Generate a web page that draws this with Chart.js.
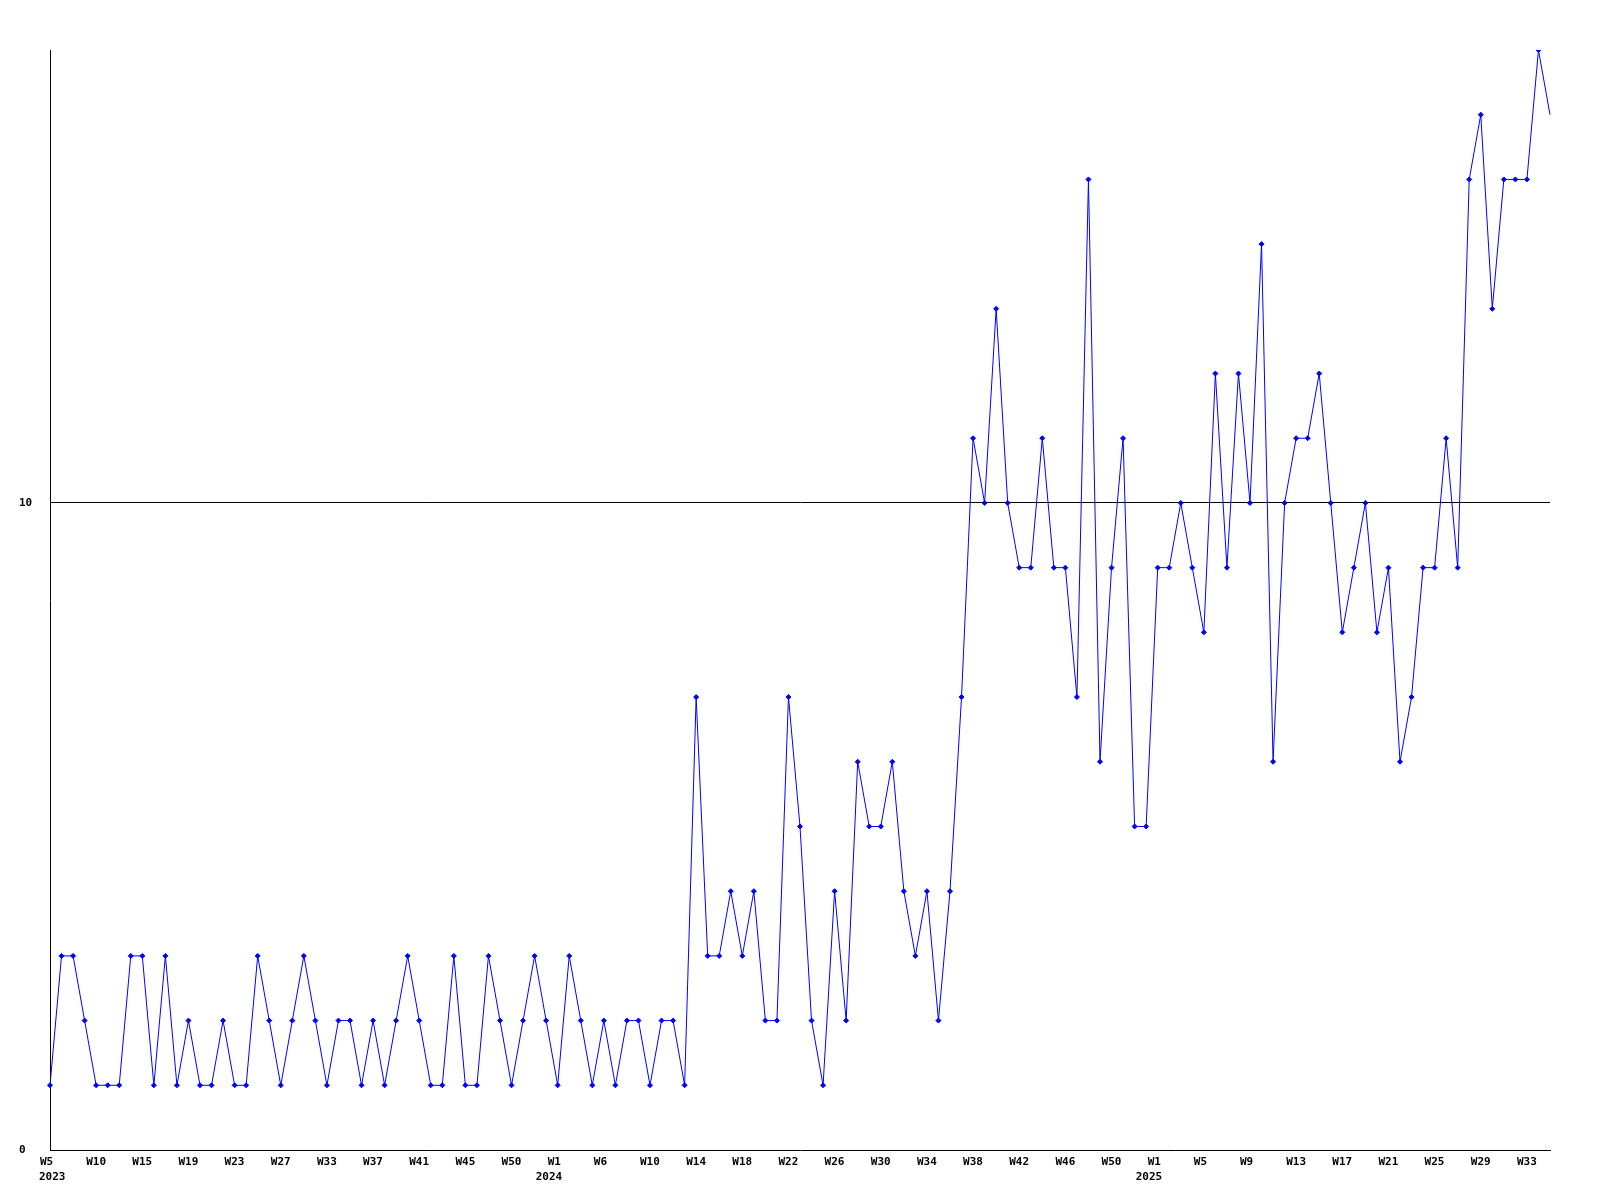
<!DOCTYPE html>
<html>
<head>
<meta charset="utf-8">
<script src="https://cdn.jsdelivr.net/npm/chart.js@4/dist/chart.umd.min.js"></script>
<style>
  body { margin: 0; background: #fff; }
  canvas { display: block; }
</style>
</head>
<body>
<canvas id="chart" width="1600" height="1200"></canvas>
<script>
// weekly values, 2023 W5 .. 2025 W34
const values = [
  1, 3, 3, 2, 1, 1, 1, 3, 3, 1,
  3, 1, 2, 1, 1, 2, 1, 1, 3, 2,
  1, 2, 3, 2, 1, 2, 2, 1, 2, 1,
  2, 3, 2, 1, 1, 3, 1, 1, 3, 2,
  1, 2, 3, 2, 1, 3, 2, 1, 2, 1,
  2, 2, 1, 2, 2, 1, 7, 3, 3, 4,
  3, 4, 2, 2, 7, 5, 2, 1, 4, 2,
  6, 5, 5, 6, 4, 3, 4, 2, 4, 7,
  11, 10, 13, 10, 9, 9, 11, 9, 9, 7,
  15, 6, 9, 11, 5, 5, 9, 9, 10, 9,
  8, 12, 9, 12, 10, 14, 6, 10, 11, 11,
  12, 10, 8, 9, 10, 8, 9, 6, 7, 9,
  9, 11, 9, 15, 16, 13, 15, 15, 15, 17,
  16
];

// x tick labels, one every 4th point
const tickLabels = [
  "W5", "W10", "W15", "W19", "W23", "W27", "W33", "W37", "W41", "W45", "W50",
  "W1", "W6", "W10", "W14", "W18", "W22", "W26", "W30", "W34", "W38", "W42", "W46", "W50",
  "W1", "W5", "W9", "W13", "W17", "W21", "W25", "W29", "W33"
];
const tickStep = 4;
// year shown under these tick labels (index into tickLabels)
const yearTicks = { 0: "2023", 11: "2024", 24: "2025" };
const yTicks = [0, 10];

const labels = values.map((v, i) => "p" + i);

const font = { family: "'DejaVu Sans Mono', monospace", size: 11, weight: "bold", lineHeight: 1.35 };

// second row of x labels: the year, under the first week of each year
const yearRow = {
  id: "yearRow",
  afterDraw(chart) {
    const x = chart.scales.x;
    const ctx = chart.ctx;
    ctx.save();
    ctx.font = "bold 11px 'DejaVu Sans Mono', monospace";
    ctx.fillStyle = "#000";
    ctx.textAlign = "left";
    ctx.textBaseline = "middle";
    for (const k in yearTicks) {
      const px = x.getPixelForValue(k * tickStep);
      const left = Math.max(px - 22, chart.chartArea.left - 11);
      ctx.fillText(yearTicks[k], left, x.top + 27);
    }
    ctx.restore();
  },
};

new Chart(document.getElementById("chart"), {
  type: "line",
  data: {
    labels: labels,
    datasets: [{
      data: values,
      borderColor: "#0000ff",
      backgroundColor: "#0000ff",
      borderWidth: 1,
      tension: 0,
      pointStyle: "rectRot",
      pointRadius: (ctx) => ctx.dataIndex === values.length - 1 ? 0 : 2.5,
      pointBorderWidth: 1,
      pointBackgroundColor: "#0000ff",
      pointBorderColor: "#0000ff",
    }],
  },
  options: {
    responsive: false,
    animation: false,
    layout: { padding: { top: 50, right: 50, left: 19, bottom: 0 } },
    plugins: { legend: { display: false }, tooltip: { enabled: false } },
    scales: {
      x: {
        offset: false,
        grid: { display: false, drawTicks: false },
        border: { display: true, color: "#000", width: 1 },
        afterFit: (scale) => { scale.height = 50; },
        ticks: {
          autoSkip: false,
          maxRotation: 0,
          color: "#000",
          font: font,
          padding: 5,
          align: "start",
          labelOffset: -10,
          callback: function (value, index) {
            if (index % tickStep !== 0) return null;
            const k = index / tickStep;
            if (k >= tickLabels.length) return null;
            return tickLabels[k];
          },
        },
      },
      y: {
        min: 0,
        max: 17,
        z: 1,
        afterBuildTicks: (scale) => { scale.ticks = yTicks.map((v) => ({ value: v })); },
        afterFit: (scale) => { scale.width = 31; },
        grid: {
          drawTicks: false,
          color: (ctx) => ctx.tick && ctx.tick.value === 10 ? "#000" : "rgba(0,0,0,0)",
        },
        border: { display: true, color: "#000", width: 1 },
        ticks: {
          color: "#000",
          font: font,
          crossAlign: "far",
          padding: 0,
        },
      },
    },
  },
  plugins: [yearRow],
});
</script>
</body>
</html>
